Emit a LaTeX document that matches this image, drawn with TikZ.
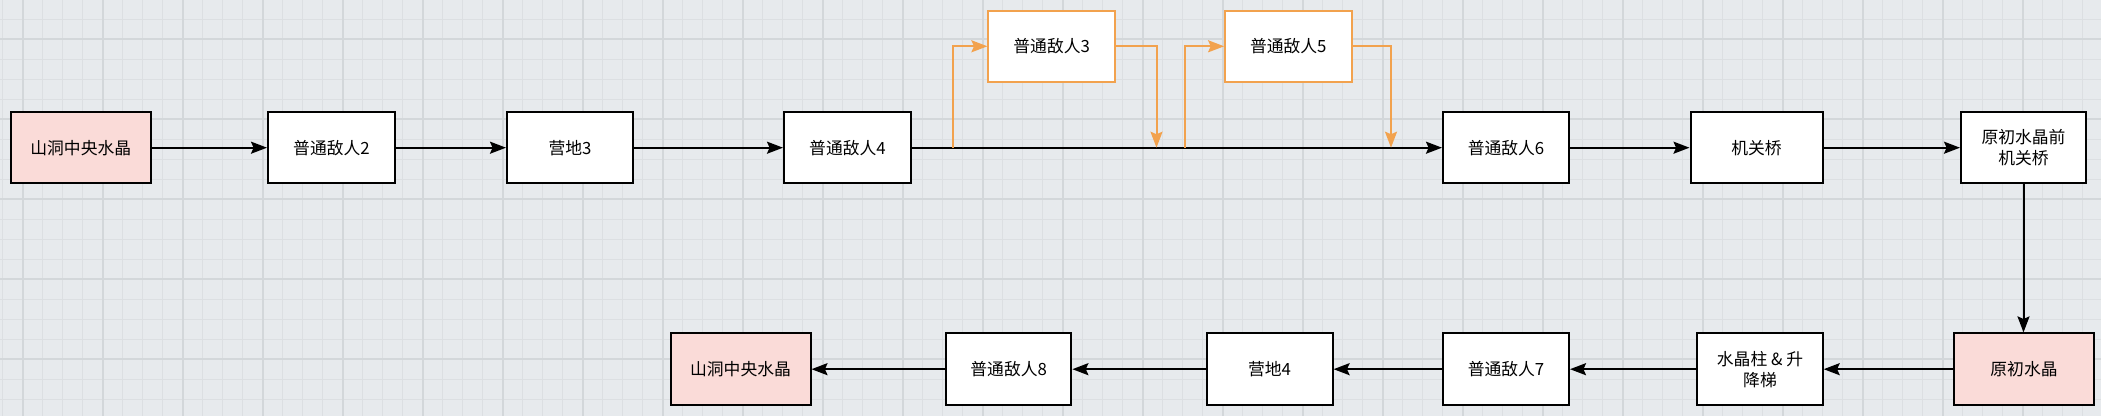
\documentclass[tikz,border=0pt]{standalone}
\usepackage{fontspec}
\newfontfamily\cjk{Noto Sans CJK SC}
\usetikzlibrary{arrows.meta}
\definecolor{bgc}{HTML}{E7EAED}
\definecolor{gridminor}{HTML}{DCDFE2}
\definecolor{gridmajor}{HTML}{D3D7DA}
\definecolor{orangeline}{HTML}{F2A24E}
\definecolor{pinkfill}{HTML}{FADBD8}
\begin{document}
\begin{tikzpicture}[x=0.5pt,y=-0.5pt,
  box/.style={draw=black,line width=1pt,fill=white,rectangle,inner sep=0pt,
    align=center,font=\cjk\fontsize{8.4}{10.5}\selectfont},
  pinkbox/.style={box,fill=pinkfill},
  orangebox/.style={box,draw=orangeline},
  arr/.style={line width=1pt,draw=black,-{Stealth[length=8pt,width=6pt,inset=1.3pt]}},
  oarr/.style={line width=1pt,draw=orangeline,-{Stealth[length=8pt,width=6pt,inset=1.3pt,fill=orangeline]}},
  minorline/.style={draw=gridminor,line width=0.5pt},
  majorline/.style={draw=gridmajor,line width=0.8pt}]
\useasboundingbox (0,0) rectangle (2101,416);
\fill[bgc] (0,0) rectangle (2101,416);
\begin{scope}
\clip (0,0) rectangle (2101,416);
\foreach \i in {0,...,105} { \draw[minorline] ({2.7+20*\i},0) -- ({2.7+20*\i},416); }
\foreach \j in {0,...,21} { \draw[minorline] (0,{-0.7+20*\j}) -- (2101,{-0.7+20*\j}); }
\foreach \i in {0,...,26} { \draw[majorline] ({22.7+80*\i},0) -- ({22.7+80*\i},416); }
\foreach \j in {0,...,5} { \draw[majorline] (0,{39.3+80*\j}) -- (2101,{39.3+80*\j}); }
\end{scope}

% top row
\node[pinkbox,minimum width=69.75pt,minimum height=35.5pt] (n1) at (80.8,147.7) {山洞中央水晶};
\node[box,minimum width=63.5pt,minimum height=35.5pt] (n2) at (331.5,147.7) {普通敌人2};
\node[box,minimum width=63pt,minimum height=35.5pt] (n3) at (570,147.7) {营地3};
\node[box,minimum width=63.5pt,minimum height=35.5pt] (n4) at (847.5,147.7) {普通敌人4};
\node[box,minimum width=63pt,minimum height=35.5pt] (n6) at (1506,147.7) {普通敌人6};
\node[box,minimum width=66pt,minimum height=35.5pt] (n7) at (1756.5,147.7) {机关桥};
\node[box,minimum width=62.5pt,minimum height=35.5pt] (n8) at (2023.5,147.7) {原初水晶前\\机关桥};

% orange boxes
\node[orangebox,minimum width=63.3pt,minimum height=35.3pt] (o3) at (1051.7,46.3) {普通敌人3};
\node[orangebox,minimum width=63.2pt,minimum height=35.3pt] (o5) at (1288.3,46.3) {普通敌人5};

% bottom row
\node[pinkbox,minimum width=70pt,minimum height=35.8pt] (m1) at (2024,369.2) {原初水晶};
\node[box,minimum width=62.7pt,minimum height=35.8pt] (m2) at (1760,369.2) {水晶柱 \& 升\\降梯};
\node[box,minimum width=63pt,minimum height=35.8pt] (m3) at (1506,369.2) {普通敌人7};
\node[box,minimum width=63pt,minimum height=35.8pt] (m4) at (1269.6,369.2) {营地4};
\node[box,minimum width=62.7pt,minimum height=35.8pt] (m5) at (1008.7,369.2) {普通敌人8};
\node[pinkbox,minimum width=70pt,minimum height=35.8pt] (m6) at (740.5,369.2) {山洞中央水晶};

% branch points on main line
\coordinate (b1) at (952.5,147.7);
\coordinate (j1) at (1156.5,147.7);
\coordinate (b2) at (1185,147.7);
\coordinate (j2) at (1391,147.7);

% connectors top
\draw[arr] (n1) -- (n2);
\draw[arr] (n2) -- (n3);
\draw[arr] (n3) -- (n4);
\draw[arr] (n4) -- (n6);
\draw[arr] (n6) -- (n7);
\draw[arr] (n7) -- (n8);
\draw[arr] (n8.south) -- (n8.south |- m1.north);

% orange branches
\draw[oarr] (b1) |- (o3.west);
\draw[oarr] (o3.east) -| (j1);
\draw[oarr] (b2) |- (o5.west);
\draw[oarr] (o5.east) -| (j2);

% bottom connectors
\draw[arr] (m1) -- (m2);
\draw[arr] (m2) -- (m3);
\draw[arr] (m3) -- (m4);
\draw[arr] (m4) -- (m5);
\draw[arr] (m5) -- (m6);
\end{tikzpicture}
\end{document}
